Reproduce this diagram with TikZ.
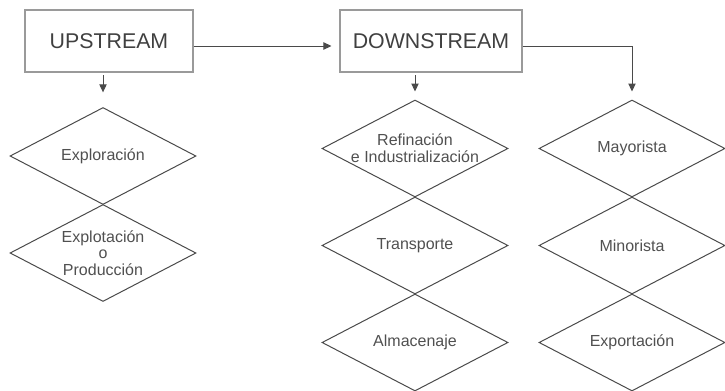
\documentclass[tikz,border=0pt]{standalone}
\usepackage{fontspec}
\setmainfont{Liberation Sans}
\usetikzlibrary{shapes.geometric,arrows.meta}
\definecolor{linegray}{HTML}{4A4A4A}
\definecolor{boxgray}{HTML}{9A9A9A}
\definecolor{textgray}{HTML}{505050}
\tikzset{
  etapa/.style={draw=boxgray,line width=0.8pt,minimum width=126pt,minimum height=46.5pt,inner sep=0pt,text=black!75,font=\fontsize{16}{19}\selectfont},
  rombo/.style={diamond,draw=linegray,line width=0.75pt,minimum width=139.5pt,minimum height=72.75pt,inner sep=0pt},
  texto/.style={align=center,text=textgray,font=\fontsize{12}{12.5}\selectfont},
  flecha/.style={draw=linegray,line width=0.75pt,-{Triangle[length=6pt,width=5.5pt]}},
}

\begin{document}
\begin{tikzpicture}[x=0.75pt,y=-0.75pt]
        \useasboundingbox (0,0) rectangle (725,390);
        % etapas
        \node[etapa] (up) at(109,41) {UPSTREAM};
        \node[etapa,minimum width=136.5pt] (down) at(431,41) {DOWNSTREAM};
        % upstream
        \node[rombo,label={[texto]center:Exploración}] (explo) at(103,156) {};
        \node[rombo,label={[texto]center:Explotación\\o\\Producción}] (explot) at(103,253) {};
        % downstream
        \node[rombo,label={[texto]center:Refinación\\e Industrialización}] (refin) at(415,148.5) {};
        \node[rombo,label={[texto]center:Transporte}] (transp) at(415,245.5) {};
        \node[rombo,label={[texto]center:Almacenaje}] (almac) at(415,342.5) {};
        \node[rombo,label={[texto]center:Mayorista}] (mayor) at(632,148.5) {};
        \node[rombo,label={[texto]center:Minorista}] (minor) at(632,245.5) {};
        \node[rombo,label={[texto]center:Exportación}] (export) at(632,342.5) {};
        % flechas
        \draw[flecha,shorten >=6pt] ([yshift=-3.75pt]up.east) -- ([yshift=-3.75pt]down.west);
        \draw[flecha,shorten <=2pt,shorten >=11pt] (up.south -| explo.north) -- (explo.north);
        \draw[flecha,shorten <=2pt,shorten >=6pt] (down.south -| refin.north) -- (refin.north);
        \draw[flecha,shorten >=6pt] ([yshift=-3.75pt]down.east) -| (mayor.north);
\end{tikzpicture}
\end{document}
